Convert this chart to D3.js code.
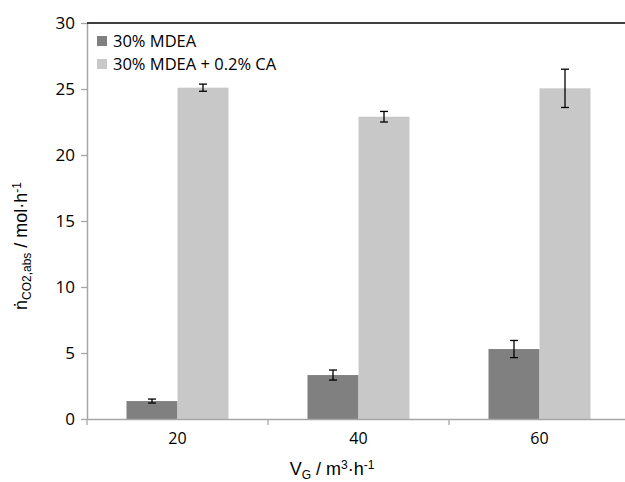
<!DOCTYPE html>
<html>
<head>
<meta charset="utf-8">
<script src="https://cdn.jsdelivr.net/npm/d3@7"></script>
<style>
  body { margin: 0; background: #fff; }
  svg { display: block; }
  .tick text { font-family: "Open Sans", sans-serif; }
</style>
</head>
<body>
<div id="chart-area"></div>
<script>
// flow rates V_G (m3/h)
var categories = ["20", "40", "60"];
var seriesNames = ["30% MDEA", "30% MDEA + 0.2% CA"];
// absorbed CO2 (mol/h) and error bars
var mdea = [1.36, 3.33, 5.3];
var mdeaErr = [0.15, 0.38, 0.65];
var mdeaCA = [25.1, 22.9, 25.05];
var mdeaCAErr = [0.27, 0.4, 1.45];
var yTicks = [0, 5, 10, 15, 20, 25, 30];

var colors = ["#808080", "#c8c8c8"];

var W = 625, H = 482;
var mLeft = 87, mTop = 23, mBottom = 419;
var bandW = 181;

var svg = d3.select("#chart-area").append("svg")
    .attr("width", W)
    .attr("height", H);

var x = d3.scaleBand()
    .domain(categories)
    .range([mLeft, mLeft + bandW * categories.length])
    .paddingInner(0)
    .paddingOuter(0);

var x1 = d3.scaleBand()
    .domain(seriesNames)
    .range([0, 102]);

var y = d3.scaleLinear()
    .domain([0, 30])
    .range([mBottom, mTop]);

var data = [];
categories.forEach(function(c, i) {
    data.push({cat: c, s: seriesNames[0], v: mdea[i], e: mdeaErr[i], col: colors[0]});
    data.push({cat: c, s: seriesNames[1], v: mdeaCA[i], e: mdeaCAErr[i], col: colors[1]});
});

var offset = (bandW - 102) / 2;

// bars
svg.selectAll("rect.bar")
    .data(data)
    .enter()
    .append("rect")
        .attr("class", "bar")
        .attr("x", function(d) { return x(d.cat) + offset + x1(d.s); })
        .attr("y", function(d) { return y(d.v); })
        .attr("width", x1.bandwidth())
        .attr("height", function(d) { return y(0) - y(d.v); })
        .attr("fill", function(d) { return d.col; });

// error bars
var eb = svg.selectAll("g.err")
    .data(data)
    .enter()
    .append("g")
        .attr("class", "err")
        .attr("stroke", "#000")
        .attr("stroke-width", 1.3);

function cx(d) { return x(d.cat) + offset + x1(d.s) + x1.bandwidth() / 2; }

eb.append("line")
    .attr("x1", cx).attr("x2", cx)
    .attr("y1", function(d) { return y(d.v + d.e); })
    .attr("y2", function(d) { return y(d.v - d.e); });
eb.append("line")
    .attr("x1", function(d) { return cx(d) - 4; })
    .attr("x2", function(d) { return cx(d) + 4; })
    .attr("y1", function(d) { return y(d.v + d.e); })
    .attr("y2", function(d) { return y(d.v + d.e); });
eb.append("line")
    .attr("x1", function(d) { return cx(d) - 4; })
    .attr("x2", function(d) { return cx(d) + 4; })
    .attr("y1", function(d) { return y(d.v - d.e); })
    .attr("y2", function(d) { return y(d.v - d.e); });

// y axis
var yAxis = svg.append("g")
    .attr("transform", "translate(" + mLeft + ",0)")
    .call(d3.axisLeft(y).tickValues(yTicks).tickSize(6).tickPadding(6).tickSizeOuter(0));
yAxis.select(".domain").attr("stroke", "#a6a6a6").attr("stroke-width", 1.5);
yAxis.selectAll(".tick line").attr("stroke", "#a6a6a6").attr("stroke-width", 1.3);
yAxis.selectAll(".tick text").attr("font-size", 17).attr("fill", "#000");

// x axis
var xAxis = svg.append("g")
    .attr("transform", "translate(0," + mBottom + ")")
    .call(d3.axisBottom(x).tickSize(0).tickPadding(14));
xAxis.select(".domain").attr("stroke", "#a6a6a6").attr("stroke-width", 1.5);
xAxis.selectAll(".tick text").attr("font-size", 16).attr("fill", "#000");

// category separators
var seps = d3.range(categories.length + 1).map(function(i) { return mLeft + i * bandW; });
svg.selectAll("line.sep")
    .data(seps)
    .enter()
    .append("line")
        .attr("x1", function(d) { return d; })
        .attr("x2", function(d) { return d; })
        .attr("y1", mBottom)
        .attr("y2", mBottom + 6)
        .attr("stroke", "#a6a6a6")
        .attr("stroke-width", 1.3);

// top border
svg.append("line")
    .attr("x1", mLeft).attr("x2", W)
    .attr("y1", mTop).attr("y2", mTop)
    .attr("stroke", "#000")
    .attr("stroke-width", 1.5);

// legend
var lg = svg.selectAll("g.legend")
    .data(seriesNames)
    .enter()
    .append("g")
        .attr("class", "legend")
        .attr("transform", function(d, i) { return "translate(97," + (36 + i * 23) + ")"; });
lg.append("rect")
    .attr("width", 10).attr("height", 10)
    .attr("fill", function(d, i) { return colors[i]; });
lg.append("text")
    .attr("x", 16).attr("y", 11)
    .attr("font-family", "Open Sans, sans-serif")
    .attr("font-size", 16.5)
    .text(function(d) { return d; });

// axis titles
var xt = svg.append("text")
    .attr("x", 332).attr("y", 475)
    .attr("text-anchor", "middle")
    .attr("font-family", "Liberation Sans, Arial, sans-serif")
    .attr("font-size", 18);
xt.append("tspan").text("V");
xt.append("tspan").attr("font-size", 12).attr("dy", 4).text("G");
xt.append("tspan").attr("dy", -4).text(" / m");
xt.append("tspan").attr("font-size", 12).attr("dy", -6).text("3");
xt.append("tspan").attr("dy", 6).text("·h");
xt.append("tspan").attr("font-size", 12).attr("dy", -6).text("-1");

var yt = svg.append("text")
    .attr("transform", "translate(27,246) rotate(-90)")
    .attr("text-anchor", "middle")
    .attr("font-family", "Liberation Sans, Arial, sans-serif")
    .attr("font-size", 18);
yt.append("tspan").text("ṅ");
yt.append("tspan").attr("font-size", 12).attr("dy", 4).text("CO2,abs");
yt.append("tspan").attr("dy", -4).text(" / mol·h");
yt.append("tspan").attr("font-size", 12).attr("dy", -6).text("-1");
</script>
</body>
</html>
